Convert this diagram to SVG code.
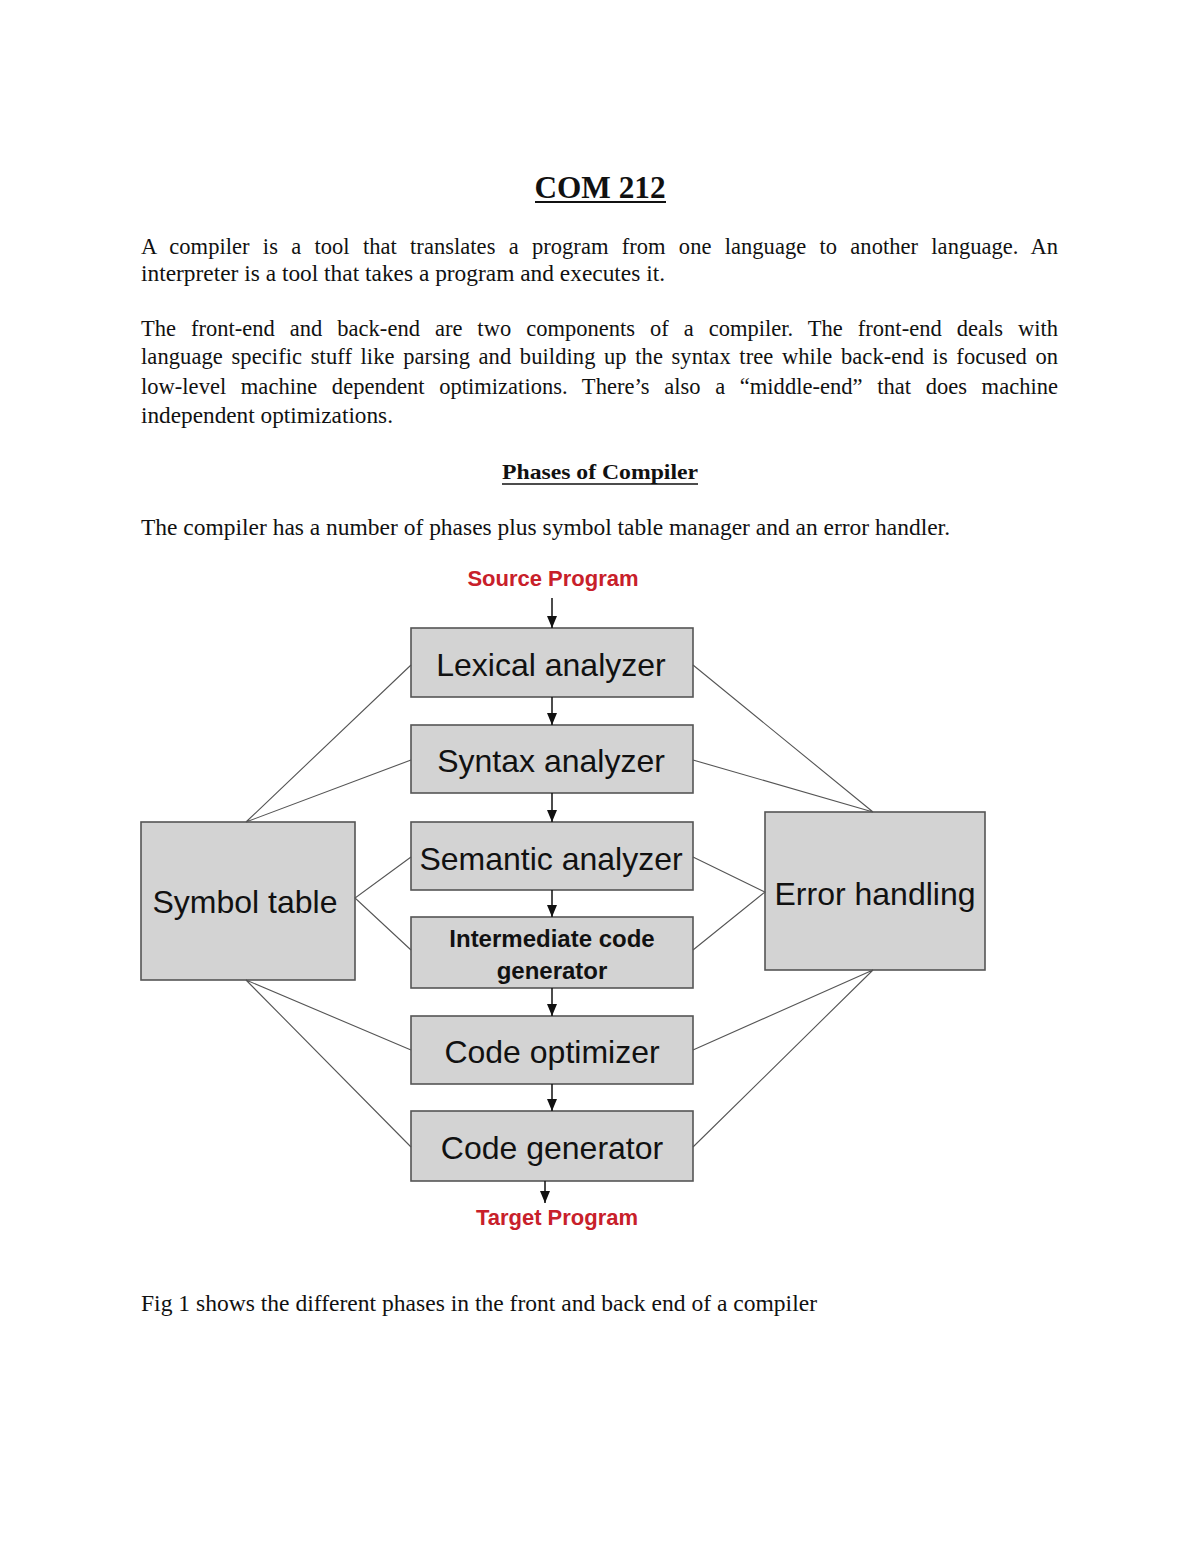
<svg xmlns="http://www.w3.org/2000/svg" width="1200" height="1553" viewBox="0 0 1200 1553">
<defs>
<style>
.body{font-family:"Liberation Serif","Times New Roman",serif;font-size:22.5px;fill:#111}
.head{font-family:"Liberation Serif","Times New Roman",serif;font-weight:bold;fill:#111}
.box{fill:#d3d3d3;stroke:#555;stroke-width:1.6}
.lbl{font-family:"Liberation Sans",Arial,sans-serif;font-size:32px;fill:#111;text-anchor:middle}
.lblb{font-family:"Liberation Sans",Arial,sans-serif;font-size:24px;font-weight:bold;fill:#111;text-anchor:middle}
.red{font-family:"Liberation Sans",Arial,sans-serif;font-size:22px;font-weight:bold;fill:#c8202a;text-anchor:middle}
.flow{stroke:#111;stroke-width:1.5;fill:none;marker-end:url(#ah)}
.link{stroke:#555;stroke-width:1.1;fill:none}
</style>
<marker id="ah" markerUnits="userSpaceOnUse" markerWidth="12" markerHeight="10" refX="12" refY="5" orient="auto" viewBox="0 0 12 10">
<path d="M0,0 L12,5 L0,10 z" fill="#111"/>
</marker>
</defs>
<rect width="1200" height="1553" fill="#fff"/>

<g id="text">
<text class="head" x="600" y="198" font-size="32" text-anchor="middle" textLength="131" lengthAdjust="spacingAndGlyphs">COM 212</text>
<line x1="535" y1="202" x2="666" y2="202" stroke="#111" stroke-width="2"/>
<text class="body" x="141" y="254" word-spacing="7.6" textLength="917" lengthAdjust="spacing">A compiler is a tool that translates a program from one language to another language. An</text>
<text class="body" x="141" y="281" textLength="524" lengthAdjust="spacingAndGlyphs">interpreter is a tool that takes a program and executes it.</text>
<text class="body" x="141" y="336" word-spacing="9.3" textLength="917" lengthAdjust="spacing">The front-end and back-end are two components of a compiler. The front-end deals with</text>
<text class="body" x="141" y="364" word-spacing="2.8" textLength="917" lengthAdjust="spacing">language specific stuff like parsing and building up the syntax tree while back-end is focused on</text>
<text class="body" x="141" y="394" word-spacing="9" textLength="917" lengthAdjust="spacing">low-level machine dependent optimizations. There’s also a “middle-end” that does machine</text>
<text class="body" x="141" y="423" textLength="252" lengthAdjust="spacingAndGlyphs">independent optimizations.</text>
<text class="head" x="600" y="479" font-size="21" text-anchor="middle" textLength="196" lengthAdjust="spacingAndGlyphs">Phases of Compiler</text>
<line x1="502" y1="484" x2="698" y2="484" stroke="#111" stroke-width="1.5"/>
<text class="body" x="141" y="535" textLength="809" lengthAdjust="spacingAndGlyphs">The compiler has a number of phases plus symbol table manager and an error handler.</text>
<text class="body" x="141" y="1311" textLength="676" lengthAdjust="spacingAndGlyphs">Fig 1 shows the different phases in the front and back end of a compiler</text>
</g>

<g id="source">
<text class="red" x="553" y="586">Source Program</text>
</g>
<g id="target">
<text class="red" x="557" y="1225">Target Program</text>
</g>

<g id="lexical">
<rect class="box" x="411" y="628" width="282" height="69"/>
<text class="lbl" x="551" y="676">Lexical analyzer</text>
</g>
<g id="syntax">
<rect class="box" x="411" y="725" width="282" height="68"/>
<text class="lbl" x="551" y="772">Syntax analyzer</text>
</g>
<g id="semantic">
<rect class="box" x="411" y="822" width="282" height="68"/>
<text class="lbl" x="551" y="870">Semantic analyzer</text>
</g>
<g id="intermediate">
<rect class="box" x="411" y="917" width="282" height="71"/>
<text class="lblb" x="552" y="947">Intermediate code</text>
<text class="lblb" x="552" y="979">generator</text>
</g>
<g id="optimizer">
<rect class="box" x="411" y="1016" width="282" height="68"/>
<text class="lbl" x="552" y="1063">Code optimizer</text>
</g>
<g id="generator">
<rect class="box" x="411" y="1111" width="282" height="70"/>
<text class="lbl" x="552" y="1159">Code generator</text>
</g>
<g id="symbol">
<rect class="box" x="141" y="822" width="214" height="158"/>
<text class="lbl" x="245" y="913">Symbol table</text>
</g>
<g id="error">
<rect class="box" x="765" y="812" width="220" height="158"/>
<text class="lbl" x="875" y="905">Error handling</text>
</g>

<g id="connectors">
<line class="flow" x1="552" y1="598" x2="552" y2="628"/>
<line class="flow" x1="552" y1="697" x2="552" y2="725"/>
<line class="flow" x1="552" y1="793" x2="552" y2="822"/>
<line class="flow" x1="552" y1="890" x2="552" y2="917"/>
<line class="flow" x1="552" y1="988" x2="552" y2="1016"/>
<line class="flow" x1="552" y1="1084" x2="552" y2="1111"/>
<line class="flow" x1="545" y1="1181" x2="545" y2="1203"/>
<polyline class="link" points="411,665 246,822 411,760"/>
<polyline class="link" points="411,857 355,898 411,950"/>
<polyline class="link" points="411,1050 246,980 411,1147"/>
<polyline class="link" points="693,665 873,812 693,760"/>
<polyline class="link" points="693,857 765,892 693,950"/>
<polyline class="link" points="693,1050 873,970 693,1147"/>
</g>
</svg>
